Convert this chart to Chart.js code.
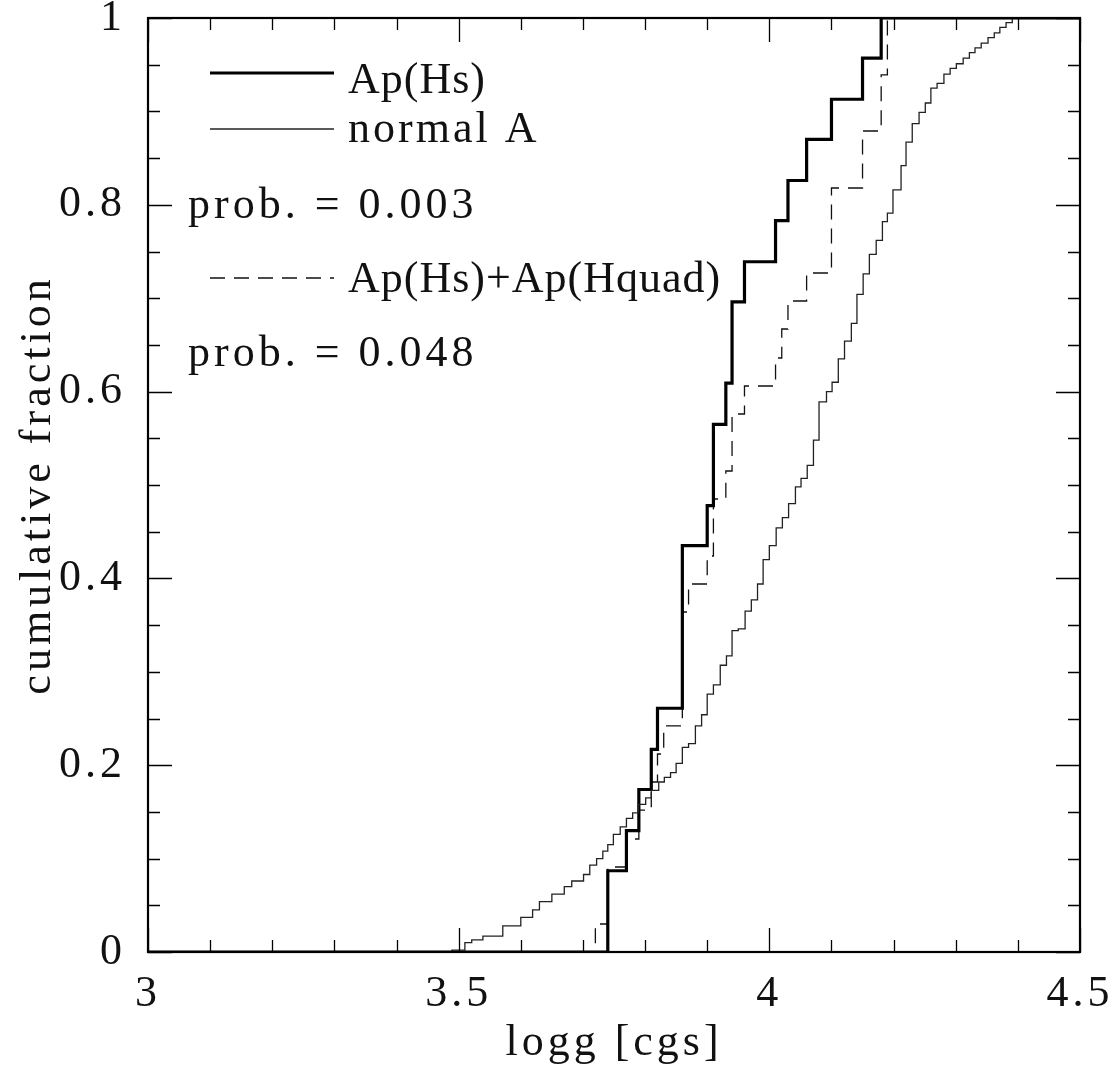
<!DOCTYPE html>
<html>
<head>
<meta charset="utf-8">
<script src="https://cdn.jsdelivr.net/npm/chart.js@4.4.1/dist/chart.umd.min.js"></script>
<style>
  html, body { margin: 0; padding: 0; background: #fff; }
  #wrap { width: 1119px; height: 1067px; }
</style>
</head>
<body>
<div id="wrap"><canvas id="c" width="1119" height="1067"></canvas></div>
<script>
// ---- data (logg value where the cumulative fraction steps up, and new fraction) ----
const apHsLogg = [3.0, 3.74, 3.77, 3.79, 3.81, 3.82, 3.86, 3.90, 3.91, 3.93, 3.94, 3.96, 4.01, 4.03, 4.06, 4.10, 4.15, 4.18, 4.5];
const apHsFrac = [0, 0.087, 0.130, 0.174, 0.217, 0.261, 0.435, 0.478, 0.565, 0.609, 0.696, 0.739, 0.783, 0.826, 0.870, 0.913, 0.957, 1.0, 1.0];

const apAllLogg = [3.0, 3.72, 3.74, 3.77, 3.79, 3.81, 3.82, 3.83, 3.86, 3.87, 3.90, 3.91, 3.93, 3.94, 3.96, 4.01, 4.02, 4.03, 4.06, 4.10, 4.15, 4.18, 4.19, 4.5];
const apAllFrac = [0, 0.030, 0.091, 0.121, 0.152, 0.182, 0.212, 0.242, 0.364, 0.394, 0.424, 0.485, 0.515, 0.576, 0.606, 0.636, 0.667, 0.697, 0.727, 0.818, 0.879, 0.939, 1.0, 1.0];

const normLogg = [3.0, 3.489, 3.510, 3.521, 3.539, 3.571, 3.600, 3.619, 3.630, 3.650, 3.670, 3.682, 3.701, 3.711, 3.722, 3.732, 3.740, 3.749, 3.760, 3.770, 3.780, 3.789, 3.801, 3.810, 3.822, 3.831, 3.841, 3.850, 3.860, 3.870, 3.881, 3.891, 3.900, 3.910, 3.921, 3.931, 3.940, 3.950, 3.961, 3.971, 3.981, 3.990, 4.000, 4.011, 4.021, 4.031, 4.042, 4.051, 4.061, 4.071, 4.080, 4.092, 4.101, 4.111, 4.121, 4.132, 4.141, 4.151, 4.161, 4.172, 4.182, 4.190, 4.199, 4.212, 4.220, 4.230, 4.241, 4.251, 4.260, 4.270, 4.281, 4.291, 4.301, 4.312, 4.322, 4.331, 4.341, 4.352, 4.362, 4.371, 4.381, 4.391, 4.5];
const normFrac = [0, 0.002, 0.010, 0.013, 0.017, 0.028, 0.037, 0.045, 0.054, 0.062, 0.070, 0.076, 0.083, 0.093, 0.100, 0.108, 0.115, 0.126, 0.134, 0.143, 0.149, 0.158, 0.165, 0.173, 0.182, 0.187, 0.192, 0.202, 0.219, 0.223, 0.242, 0.254, 0.276, 0.286, 0.307, 0.317, 0.344, 0.346, 0.365, 0.377, 0.394, 0.420, 0.435, 0.454, 0.465, 0.480, 0.498, 0.507, 0.521, 0.548, 0.589, 0.600, 0.610, 0.635, 0.654, 0.673, 0.704, 0.726, 0.747, 0.762, 0.782, 0.791, 0.816, 0.842, 0.867, 0.887, 0.899, 0.909, 0.925, 0.930, 0.940, 0.946, 0.951, 0.957, 0.963, 0.968, 0.973, 0.979, 0.984, 0.990, 0.995, 1.0, 1.0];

const seriesNames = ['Ap(Hs)', 'normal A', 'Ap(Hs)+Ap(Hquad)'];
const probTexts = ['prob. = 0.003', 'prob. = 0.048'];
const xTitle = 'logg [cgs]';
const yTitle = 'cumulative fraction';

const pts = (xs, ys) => xs.map((x, i) => ({ x: x, y: ys[i] }));
const fmt = v => String(Math.round(v * 10) / 10);

const FONT = '"Liberation Serif", "DejaVu Serif", serif';
const INK = '#111';

const frameTicks = {
  id: 'frameTicks',
  beforeDraw(chart) { chart.ctx.letterSpacing = '4px'; },
  afterDatasetsDraw(chart) {
    const ctx = chart.ctx;
    const xs = chart.scales.x, ys = chart.scales.y;
    const a = chart.chartArea;
    ctx.save();
    ctx.strokeStyle = '#000';
    ctx.lineWidth = 1.3;
    // x ticks every 0.1, major every 0.5
    for (let i = 0; i <= 15; i++) {
      const v = 3 + i * 0.1;
      const px = Math.round(xs.getPixelForValue(v)) + 0.5;
      const len = (i % 5 === 0) ? 24 : 12;
      ctx.beginPath();
      ctx.moveTo(px, a.bottom); ctx.lineTo(px, a.bottom - len);
      ctx.moveTo(px, a.top); ctx.lineTo(px, a.top + len);
      ctx.stroke();
    }
    // y ticks every 0.05, major every 0.2
    for (let i = 0; i <= 20; i++) {
      const v = i * 0.05;
      const py = Math.round(ys.getPixelForValue(v)) + 0.5;
      const len = (i % 4 === 0) ? 24 : 12;
      ctx.beginPath();
      ctx.moveTo(a.left, py); ctx.lineTo(a.left + len, py);
      ctx.moveTo(a.right, py); ctx.lineTo(a.right - len, py);
      ctx.stroke();
    }
    // frame
    ctx.lineWidth = 2.2;
    ctx.strokeStyle = '#000';
    ctx.strokeRect(a.left, a.top, a.right - a.left, a.bottom - a.top);

    // legend + annotations
    const ds = chart.data.datasets;
    const legendRows = [
      { d: ds[1], y: 73, text: seriesNames[0], ty: 93, ls: '1px' },
      { d: ds[0], y: 129, text: seriesNames[1], ty: 142, ls: '3px' },
      { d: ds[2], y: 278, text: seriesNames[2], ty: 292, ls: '1px' }
    ];
    ctx.font = '44px ' + FONT;
    ctx.fillStyle = INK;
    ctx.textBaseline = 'alphabetic';
    ctx.textAlign = 'left';
    legendRows.forEach(r => {
      ctx.save();
      ctx.strokeStyle = r.d.borderColor;
      ctx.lineWidth = r.d.borderWidth;
      ctx.setLineDash(r.d.borderDash || []);
      ctx.beginPath();
      ctx.moveTo(210, r.y); ctx.lineTo(334, r.y);
      ctx.stroke();
      ctx.restore();
      ctx.letterSpacing = r.ls;
      ctx.fillText(r.text, 348, r.ty);
    });
    ctx.letterSpacing = '4px';
    ctx.fillText(probTexts[0], 188, 218);
    ctx.fillText(probTexts[1], 188, 366);
    ctx.restore();
  }
};

new Chart(document.getElementById('c'), {
  type: 'line',
  data: {
    datasets: [
      { label: seriesNames[1], data: pts(normLogg, normFrac), stepped: 'before',
        borderColor: '#222', borderWidth: 1.3, pointRadius: 0, fill: false },
      { label: seriesNames[0], data: pts(apHsLogg, apHsFrac), stepped: 'before',
        borderColor: '#000', borderWidth: 3.2, pointRadius: 0, fill: false },
      { label: seriesNames[2], data: pts(apAllLogg, apAllFrac), stepped: 'before',
        borderColor: '#111', borderWidth: 1.3, borderDash: [15, 9], pointRadius: 0, fill: false }
    ]
  },
  options: {
    responsive: false,
    animation: false,
    devicePixelRatio: 1,
    layout: { padding: { top: 18, right: 39, left: 0, bottom: 0 } },
    plugins: { legend: { display: false }, tooltip: { enabled: false } },
    scales: {
      x: {
        type: 'linear', min: 3, max: 4.5,
        afterFit(s) { s.height = 115; },
        grid: { display: false, drawTicks: true, tickLength: 25 },
        border: { display: false },
        ticks: { stepSize: 0.5, padding: 0, color: INK, maxRotation: 0, callback: fmt,
                 font: { family: FONT, size: 44, lineHeight: 0.8 } },
        title: { display: true, text: xTitle, color: INK, padding: { top: 0, bottom: 0 },
                 font: { family: FONT, size: 44, lineHeight: 1.05 } }
      },
      y: {
        type: 'linear', min: 0, max: 1,
        afterFit(s) { s.width = 148; },
        grid: { display: false, drawTicks: true, tickLength: 22 },
        border: { display: false },
        ticks: { stepSize: 0.2, padding: 0, color: INK, callback: fmt,
                 font: { family: FONT, size: 44, lineHeight: 0.8 } },
        title: { display: true, text: yTitle, color: INK, padding: { top: 12, bottom: 0 },
                 font: { family: FONT, size: 44, lineHeight: 1.2 } }
      }
    }
  },
  plugins: [frameTicks]
});
</script>
</body>
</html>
